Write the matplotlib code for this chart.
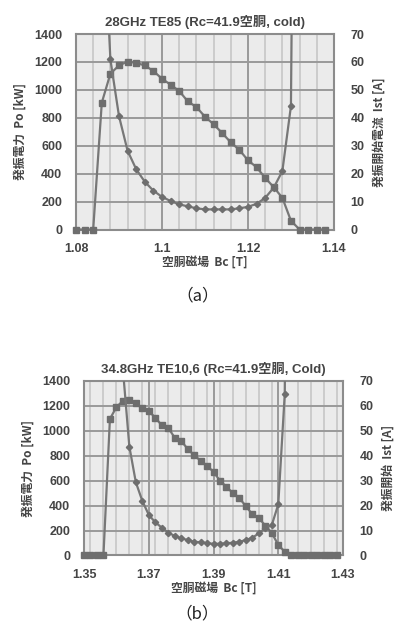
import numpy as np
import matplotlib
matplotlib.use('Agg')
import matplotlib.pyplot as plt
from matplotlib.ticker import MultipleLocator

# ---------------- data (a) 28GHz TE85 ----------------
bc_a = [1.080, 1.082, 1.084, 1.086, 1.088, 1.090, 1.092, 1.094, 1.096, 1.098,
        1.100, 1.102, 1.104, 1.106, 1.108, 1.110, 1.112, 1.114, 1.116, 1.118,
        1.120, 1.122, 1.124, 1.126, 1.128, 1.130, 1.132, 1.134, 1.136, 1.138]
po_a = [0, 0, 0, 908, 1116, 1175, 1203, 1193, 1175, 1135,
        1080, 1037, 992, 918, 877, 808, 754, 691, 624, 570,
        496, 446, 370, 303, 227, 63, 0, 0, 0, 0]
ist_a = [np.nan, np.nan, np.nan, 125, 60.9, 40.6, 28.2, 21.6, 17.1, 13.9,
         11.7, 10.2, 9.0, 8.3, 7.6, 7.2, 7.2, 7.2, 7.2, 7.6,
         8.1, 9.2, 11.3, 15.0, 20.9, 44.2, 400, np.nan, np.nan, np.nan]
xt_a = [1.08, 1.1, 1.12, 1.14]

# ---------------- data (b) 34.8GHz TE10,6 ----------------
bc_b = [1.350, 1.352, 1.354, 1.356, 1.358, 1.360, 1.362, 1.364, 1.366, 1.368,
        1.370, 1.372, 1.374, 1.376, 1.378, 1.380, 1.382, 1.384, 1.386, 1.388,
        1.390, 1.392, 1.394, 1.396, 1.398, 1.400, 1.402, 1.404, 1.406, 1.408,
        1.410, 1.412, 1.414, 1.416, 1.418, 1.420, 1.422, 1.424, 1.426, 1.428]
po_b = [0, 0, 0, 0, 1095, 1190, 1240, 1250, 1225, 1180,
        1160, 1105, 1045, 1025, 945, 920, 855, 805, 760, 720,
        670, 600, 550, 500, 460, 395, 330, 300, 240, 180,
        85, 30, 0, 0, 0, 0, 0, 0, 0, 0]
ist_b = [np.nan, np.nan, np.nan, np.nan, np.nan, 300, 75, 43.7, 29.4, 21.9,
         16.3, 13.3, 11.2, 9.2, 7.8, 6.9, 6.2, 5.5, 5.3, 4.9,
         4.7, 4.7, 4.9, 5.1, 5.5, 6.2, 7.1, 8.9, 10.9, 12.2,
         20.5, 64.7, 400, np.nan, np.nan, np.nan, np.nan, np.nan, np.nan, np.nan]
xt_b = [1.35, 1.37, 1.39, 1.41, 1.43]

LATIN = ['Liberation Sans', 'Noto Sans CJK JP']
CJK = ['Noto Sans CJK JP', 'Liberation Sans']
TXT = '#444444'
LINE = '#777777'

fig = plt.figure(figsize=(3.95, 6.3), dpi=100)


def panel(rect, bc, po, ist, xt, title, rlabel, caption, cap_y):
    ax = fig.add_axes(rect)
    ax.set_facecolor('#ebebeb')
    ax.plot(bc, po, color=LINE, lw=1.6, marker='s', ms=5,
            mfc='#6e6e6e', mec='#6e6e6e', zorder=3, clip_on=False)
    ax.set_ylim(0, 1400)
    ax.yaxis.set_major_locator(MultipleLocator(200))
    for s in ax.spines.values():
        s.set_color('#8c8c8c')
        s.set_linewidth(1.5)
    ax.tick_params(which='both', length=0, pad=10, colors=TXT, labelsize=9)
    ax.set_title(title, family=LATIN, fontweight='bold', fontsize=9.5,
                 color=TXT, pad=6)
    ax.set_ylabel('発振電力  Po [kW]', family=CJK, fontsize=8.5, color=TXT,
                  fontweight='bold', labelpad=5)
    ax.set_xlabel('空胴磁場  Bc [T]', family=CJK, fontsize=8.5, color=TXT,
                  fontweight='bold', labelpad=0)

    ax2 = ax.twinx()
    ax2.plot(bc, ist, color=LINE, lw=1.6, marker='D', ms=3.2,
             mfc='#6e6e6e', mec='#6e6e6e', zorder=3)
    ax2.set_ylim(0, 70)
    ax2.yaxis.set_major_locator(MultipleLocator(10))
    ax2.tick_params(length=0, pad=12, colors=TXT, labelsize=9)
    for s in ax2.spines.values():
        s.set_visible(False)
    ax2.set_ylabel(rlabel, family=CJK, fontsize=8.5, color=TXT,
                   fontweight='bold', labelpad=6)

    # x axis set after both plots so autoscale does not widen it
    ax.set_xlim(xt[0], xt[-1])
    ax.set_xticks(xt)
    ax.set_xticklabels(['%g' % v for v in xt])
    ax.xaxis.set_minor_locator(MultipleLocator(0.004))
    ax.grid(which='minor', axis='x', color='#cccccc', lw=1.4)
    ax.grid(which='major', axis='x', color='#999999', lw=1.4)
    ax.grid(which='major', axis='y', color='#999999', lw=1.4)
    ax.set_axisbelow(True)
    for lab in ax.get_xticklabels() + ax.get_yticklabels() + ax2.get_yticklabels():
        lab.set_fontweight('bold')
        lab.set_family(LATIN)
    fig.text(0.5, cap_y, caption, ha='center', va='center', family=CJK,
             fontsize=12, color='#222222')


panel([0.1924, 0.6357, 0.653, 0.3103], bc_a, po_a, ist_a, xt_a,
      '28GHz TE85 (Rc=41.9空胴, cold)', '発振開始電流  Ist [A]', '（a）', 0.53)
panel([0.2127, 0.1183, 0.6557, 0.277], bc_b, po_b, ist_b, xt_b,
      '34.8GHz TE10,6 (Rc=41.9空胴, Cold)', '発振開始  Ist [A]', '（b）', 0.025)

fig.savefig('out.png', dpi=100)
